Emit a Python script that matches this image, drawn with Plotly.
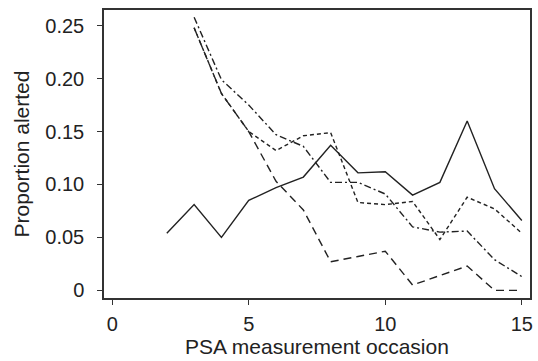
import plotly.graph_objects as go

occ_solid = list(range(2, 16))
alert_solid = [0.054, 0.081, 0.050, 0.085, 0.097, 0.107, 0.137, 0.111, 0.112, 0.090, 0.102, 0.160, 0.096, 0.066]

occ_other = list(range(3, 16))
alert_longdash = [0.248, 0.186, 0.150, 0.103, 0.076, 0.027, 0.032, 0.037, 0.005, 0.014, 0.023, 0.0, 0.0]
alert_shortdash = [0.248, 0.186, 0.150, 0.132, 0.146, 0.149, 0.083, 0.081, 0.084, 0.048, 0.088, 0.077, 0.054]
alert_dashdot = [0.258, 0.199, 0.175, 0.147, 0.136, 0.102, 0.102, 0.091, 0.060, 0.055, 0.056, 0.029, 0.013]

x_ticks = [0, 5, 10, 15]
y_ticks = [0, 0.05, 0.10, 0.15, 0.20, 0.25]
y_ticktext = ["0", "0.05", "0.10", "0.15", "0.20", "0.25"]

col = "#222222"
fig = go.Figure()
fig.add_trace(go.Scatter(x=occ_solid, y=alert_solid, mode="lines",
                         line=dict(color=col, width=1.4, dash="solid")))
fig.add_trace(go.Scatter(x=occ_other, y=alert_longdash, mode="lines",
                         line=dict(color=col, width=1.4, dash="8px,5px")))
fig.add_trace(go.Scatter(x=occ_other, y=alert_shortdash, mode="lines",
                         line=dict(color=col, width=1.4, dash="4px,3px")))
fig.add_trace(go.Scatter(x=occ_other, y=alert_dashdot, mode="lines",
                         line=dict(color=col, width=1.4, dash="7px,3px,2px,3px")))

fam = "Liberation Sans, Arial, sans-serif"
tickfont = dict(family=fam, size=20, color="#222222")
titlefont = dict(family=fam, size=21, color="#222222")
fig.update_layout(
    width=538, height=361,
    margin=dict(l=104, r=8, t=10, b=63),
    paper_bgcolor="white", plot_bgcolor="white",
    showlegend=False, font=dict(family=fam, size=20, color="#222222"),
)
fig.update_xaxes(range=[-0.3, 15.3], tickvals=x_ticks, ticks="outside", ticklen=5,
                 tickwidth=1.2, tickcolor="#333", showline=True, mirror=True,
                 linecolor="#333", linewidth=1.5, showgrid=False, zeroline=False,
                 tickfont=tickfont, ticklabelstandoff=2, automargin=False,
                 title=dict(text="PSA measurement occasion", font=titlefont, standoff=6))
fig.update_yaxes(range=[-0.0072, 0.2648], tickvals=y_ticks, ticktext=y_ticktext,
                 ticks="outside", ticklen=5, tickwidth=1.2, tickcolor="#333",
                 showline=True, mirror=True, linecolor="#333", linewidth=1.5,
                 showgrid=False, zeroline=False, tickfont=tickfont,
                 ticklabelstandoff=9, automargin=False,
                 title=dict(text="Proportion alerted", font=titlefont, standoff=10))
fig.write_html("out.html", config={"displayModeBar": False},
               post_script="document.body.style.margin='0';")
